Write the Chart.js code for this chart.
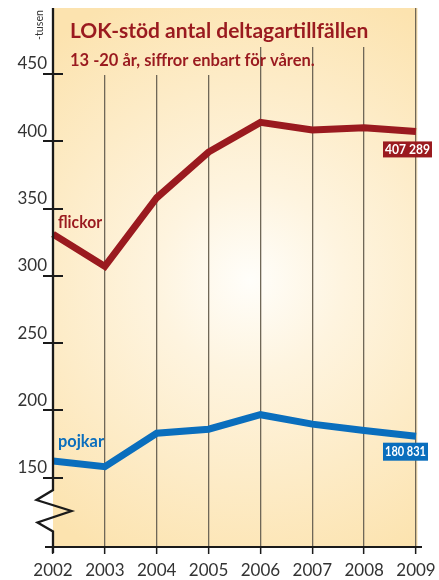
<!DOCTYPE html>
<html><head><meta charset="utf-8">
<script src="https://cdn.jsdelivr.net/npm/chart.js@4.4.0/dist/chart.umd.min.js"></script>
<style>html,body{margin:0;padding:0;background:#fff;}#wrap{width:439px;height:580px;position:relative}</style>
</head><body><div id="wrap"><canvas id="c" width="439" height="580"></canvas></div>
<script>
// ---- data ----
const years = ['2002','2003','2004','2005','2006','2007','2008','2009'];
const flickor = [331, 307, 358, 392, 414, 408.4, 410, 407.289];
const pojkar = [162.4, 158.2, 183, 186, 196.8, 189.8, 185, 180.831];
const yTicks = [150, 200, 250, 300, 350, 400, 450];
const seriesNames = ['flickor', 'pojkar'];
const endLabels = ['407 289', '180 831'];
const titleText = 'LOK-stöd antal deltagartillfällen';
const subtitleText = '13 -20 år, siffror enbart för våren.';
const unitText = '-tusen';

const RED = '#9A1A1F';
const BLUE = '#0A6EBD';
const FONT = 'Lato, "Open Sans", sans-serif';

function panelGradient(ctx) {
  const g = ctx.createRadialGradient(250, 280, 0, 250, 280, 310);
  g.addColorStop(0, '#FFFEFA');
  g.addColorStop(0.3, '#FEF4DF');
  g.addColorStop(1, '#FCE3AF');
  return g;
}

const deco = {
  id: 'deco',
  beforeDraw(chart) {
    const { ctx, chartArea: a } = chart;
    ctx.save();
    ctx.fillStyle = panelGradient(ctx);
    ctx.fillRect(a.left, a.top, a.right - a.left + 1.5, a.bottom - a.top);
    ctx.restore();
  },
  beforeDatasetsDraw(chart) {
    const { ctx, chartArea: a } = chart;
    ctx.save();
    // cover grid lines behind title block
    ctx.fillStyle = panelGradient(ctx);
    ctx.fillRect(a.left + 1, a.top, a.right - a.left - 2, 39);
    ctx.fillRect(a.left + 1, a.top, 181, 67);
    // title
    ctx.fillStyle = RED;
    ctx.textBaseline = 'alphabetic';
    ctx.textAlign = 'left';
    ctx.font = 'bold 21px ' + FONT;
    ctx.fillText(titleText, 70, 38, 325);
    ctx.font = 'bold 16.5px ' + FONT;
    ctx.fillText(subtitleText, 70, 66, 282);
    ctx.restore();
  },
  afterDatasetsDraw(chart) {
    const { ctx, chartArea: a, scales } = chart;
    const ys = scales.y, xs = scales.x;
    const ax = a.left;
    ctx.save();
    ctx.strokeStyle = '#1a1a1a';
    ctx.lineCap = 'butt';
    ctx.lineJoin = 'miter';
    // y axis with break
    ctx.lineWidth = 2.3;
    ctx.beginPath();
    ctx.moveTo(ax, a.top);
    ctx.lineTo(ax, 490);
    ctx.lineTo(ax - 16.5, 500);
    ctx.lineTo(ax + 18.5, 511);
    ctx.lineTo(ax - 15.5, 522.5);
    ctx.lineTo(ax, 531.5);
    ctx.lineTo(ax, a.bottom + 6);
    ctx.stroke();
    // x axis
    ctx.lineWidth = 2.2;
    ctx.beginPath();
    ctx.moveTo(45, a.bottom);
    ctx.lineTo(a.right + 6, a.bottom);
    ctx.stroke();
    // y tick marks crossing the axis
    ctx.lineWidth = 2;
    yTicks.forEach(v => {
      const py = Math.round(ys.getPixelForValue(v));
      ctx.beginPath();
      ctx.moveTo(ax - 10, py);
      ctx.lineTo(ax + 10, py);
      ctx.stroke();
    });
    // series labels
    ctx.font = 'bold 17px ' + FONT;
    ctx.textAlign = 'left';
    ctx.textBaseline = 'alphabetic';
    ctx.fillStyle = RED;
    ctx.fillText(seriesNames[0], ax + 5, 227.5, 44);
    ctx.fillStyle = BLUE;
    ctx.fillText(seriesNames[1], ax + 5, 446.5, 46);
    // end value labels
    const last = years.length - 1;
    const boxes = [
      { txt: endLabels[0], color: RED, y: ys.getPixelForValue(flickor[last]) + 10, h: 16, w: 49 },
      { txt: endLabels[1], color: BLUE, y: ys.getPixelForValue(pojkar[last]) + 6.5, h: 18, w: 45 }
    ];
    ctx.font = 'bold 13px ' + FONT;
    ctx.textAlign = 'center';
    ctx.textBaseline = 'middle';
    boxes.forEach(b => {
      const bx = xs.getPixelForValue(last) - 33;
      ctx.fillStyle = b.color;
      ctx.fillRect(bx, b.y, b.w, b.h);
      ctx.fillStyle = '#fff';
      ctx.fillText(b.txt, bx + b.w / 2, b.y + b.h / 2 + 0.5, b.w - 4);
    });
    // unit text
    ctx.translate(43, 40);
    ctx.rotate(-Math.PI / 2);
    ctx.font = '12px ' + FONT;
    ctx.fillStyle = '#333';
    ctx.textAlign = 'left';
    ctx.textBaseline = 'alphabetic';
    ctx.fillText(unitText, 0, 0, 30);
    ctx.restore();
  }
};

new Chart(document.getElementById('c'), {
  type: 'line',
  data: {
    labels: years,
    datasets: [
      { label: seriesNames[0], data: flickor, borderColor: RED, borderWidth: 7, pointRadius: 0, tension: 0, borderJoinStyle: 'miter', borderCapStyle: 'butt' },
      { label: seriesNames[1], data: pojkar, borderColor: BLUE, borderWidth: 7, pointRadius: 0, tension: 0, borderJoinStyle: 'miter', borderCapStyle: 'butt' }
    ]
  },
  options: {
    responsive: false,
    devicePixelRatio: 1,
    animation: false,
    layout: { padding: { top: 8, right: 23, left: 0, bottom: 0 } },
    plugins: { legend: { display: false }, tooltip: { enabled: false }, title: { display: false } },
    scales: {
      x: {
        offset: false,
        grid: {
          color: ctx => ctx.index === 0 ? 'rgba(0,0,0,0)' : '#6f6757',
          lineWidth: 1.3,
          tickColor: '#1a1a1a',
          tickWidth: 1.5,
          tickLength: 7,
          drawTicks: true
        },
        border: { display: false },
        ticks: { color: '#333', font: { family: FONT, size: 17 }, padding: 6, maxRotation: 0, autoSkip: false },
        afterFit(s) { s.height = 33; s.paddingLeft = 0; s.paddingRight = 0; }
      },
      y: {
        min: 98.5,
        max: 499,
        grid: { display: false, drawTicks: false },
        border: { display: false },
        afterBuildTicks(s) { s.ticks = yTicks.map(v => ({ value: v })); },
        ticks: { color: '#333', font: { family: FONT, size: 17 }, padding: 6, labelOffset: -10 },
        afterFit(s) { s.width = 53; s.paddingTop = 0; s.paddingBottom = 0; }
      }
    }
  },
  plugins: [deco]
});
</script>
</body></html>
